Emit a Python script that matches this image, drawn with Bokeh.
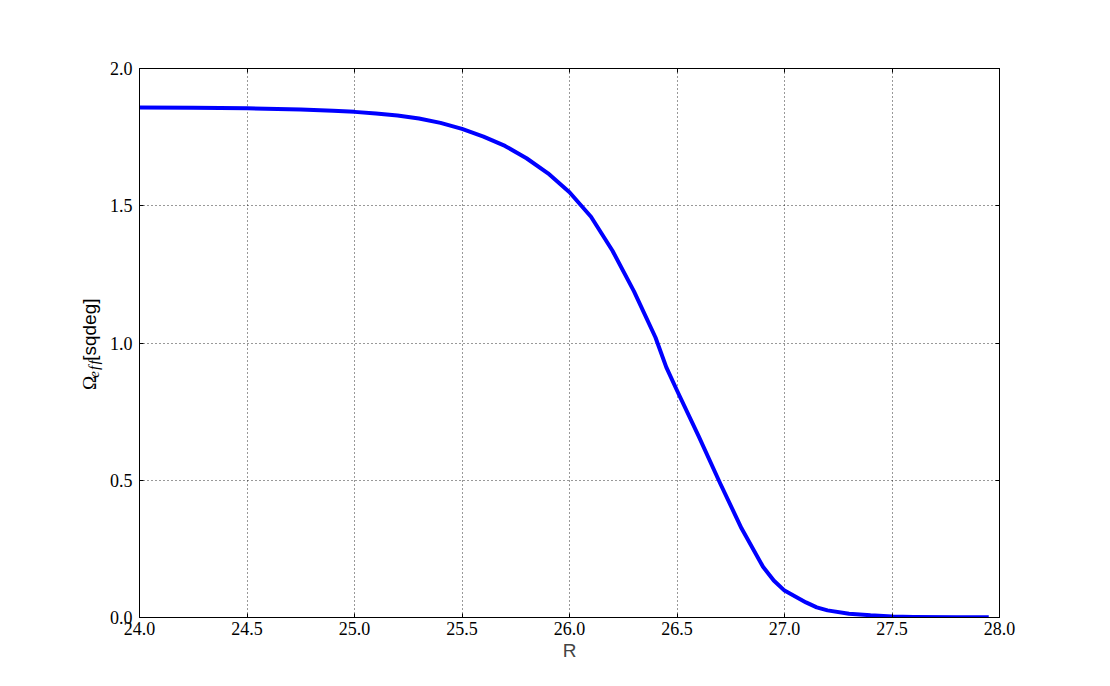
from bokeh.plotting import figure
from bokeh.models import Range1d, LinearAxis, FixedTicker, NumeralTickFormatter
from bokeh.layouts import row
from bokeh.core.properties import value
from bokeh.embed import file_html
from bokeh.resources import INLINE
import math

# Data
R = [24.0, 24.25, 24.5, 24.75, 24.9, 25.0, 25.1, 25.2, 25.3, 25.4, 25.5, 25.6, 25.7,
     25.8, 25.9, 26.0, 26.1, 26.2, 26.3, 26.4, 26.45, 26.5, 26.6, 26.7, 26.8, 26.9,
     26.95, 27.0, 27.1, 27.15, 27.2, 27.3, 27.4, 27.5, 27.6, 27.8, 27.95]
omega_eff = [1.858, 1.857, 1.855, 1.851, 1.846, 1.842, 1.836, 1.829, 1.818, 1.802, 1.780,
             1.752, 1.718, 1.673, 1.618, 1.549, 1.460, 1.336, 1.188, 1.020, 0.912, 0.827,
             0.662, 0.490, 0.325, 0.185, 0.135, 0.098, 0.055, 0.037, 0.026, 0.014, 0.008,
             0.004, 0.002, 0.001, 0.001]
x_ticks = [24.0, 24.5, 25.0, 25.5, 26.0, 26.5, 27.0, 27.5, 28.0]
y_ticks = [0.0, 0.5, 1.0, 1.5, 2.0]
y_label_parts = ["Ω", "e\u200af\u200af", "[sqdeg]"]

H = 678
LW = 105  # width of the strip that holds the y-axis label

p = figure(width=1102 - LW, height=H, output_backend="svg", toolbar_location=None,
           x_range=Range1d(24, 28), y_range=Range1d(0, 2),
           min_border_left=139 - LW, min_border_right=103, min_border_top=68, min_border_bottom=61,
           x_axis_label="R", y_axis_label=None)
p.background_fill_color = "white"
p.border_fill_color = "white"
p.outline_line_color = "black"
p.outline_line_width = 1

p.line(R, omega_eff, line_color="#0000ff", line_width=4, line_join="round")

tick_font = "Liberation Serif"
for ax in [p.xaxis[0], p.yaxis[0]]:
    ax.major_tick_in = 4
    ax.major_tick_out = 0
    ax.minor_tick_line_color = None
    ax.axis_line_color = "black"
    ax.major_tick_line_color = "black"
    ax.major_label_text_font = tick_font
    ax.major_label_text_font_size = "18px"
    ax.major_label_text_color = "black"
    ax.formatter = NumeralTickFormatter(format="0.0")

p.xaxis[0].ticker = FixedTicker(ticks=x_ticks)
p.yaxis[0].ticker = FixedTicker(ticks=y_ticks)
p.xaxis[0].major_label_standoff = 4
p.yaxis[0].major_label_standoff = 7
p.xaxis[0].axis_label_text_font = "Liberation Sans"
p.xaxis[0].axis_label_text_font_style = "normal"
p.xaxis[0].axis_label_text_font_size = "19px"
p.xaxis[0].axis_label_standoff = 2
p.yaxis[0].axis_label = None

# mirrored ticks on top and right (no labels)
top = LinearAxis(ticker=FixedTicker(ticks=x_ticks),
                 major_label_overrides={t: "" for t in x_ticks},
                 major_tick_in=4, major_tick_out=0, minor_tick_line_color=None,
                 axis_line_color="black", major_label_standoff=0)
right = LinearAxis(ticker=FixedTicker(ticks=y_ticks),
                   major_label_overrides={t: "" for t in y_ticks},
                   major_tick_in=4, major_tick_out=0, minor_tick_line_color=None,
                   axis_line_color="black", major_label_standoff=0)
p.add_layout(top, "above")
p.add_layout(right, "right")

p.xgrid.ticker = FixedTicker(ticks=x_ticks)
p.ygrid.ticker = FixedTicker(ticks=y_ticks)
for g in [p.xgrid[0], p.ygrid[0]]:
    g.grid_line_color = "black"
    g.grid_line_alpha = 0.8
    g.grid_line_dash = "1 3"
    g.grid_line_width = 1

# strip with the rotated y-axis label (pixel coordinates, y measured from the bottom)
lab = figure(width=LW, height=H, output_backend="svg", toolbar_location=None,
             x_range=Range1d(0, LW), y_range=Range1d(0, H),
             min_border=0, x_axis_location=None, y_axis_location=None)
lab.grid.visible = False
lab.outline_line_color = None
lab.background_fill_color = "white"
lab.border_fill_color = "white"

lab.text(x=[89], y=[H - 397], text=[y_label_parts[0]], angle=math.pi / 2,
         text_font=value("Liberation Serif"), text_font_size="19px",
         text_align="left", text_baseline="alphabetic", text_color="black")
lab.text(x=[93], y=[H - 382], text=[y_label_parts[1]], angle=math.pi / 2,
         text_font=value("Liberation Serif"), text_font_style="italic", text_font_size="15px",
         text_align="left", text_baseline="alphabetic", text_color="black")
lab.text(x=[89], y=[H - 361], text=[y_label_parts[2]], angle=math.pi / 2,
         text_font=value("Liberation Sans"), text_font_size="19px",
         text_align="left", text_baseline="alphabetic", text_color="black")

layout = row(lab, p, spacing=0)
open("out.html", "w").write(file_html(layout, INLINE))
